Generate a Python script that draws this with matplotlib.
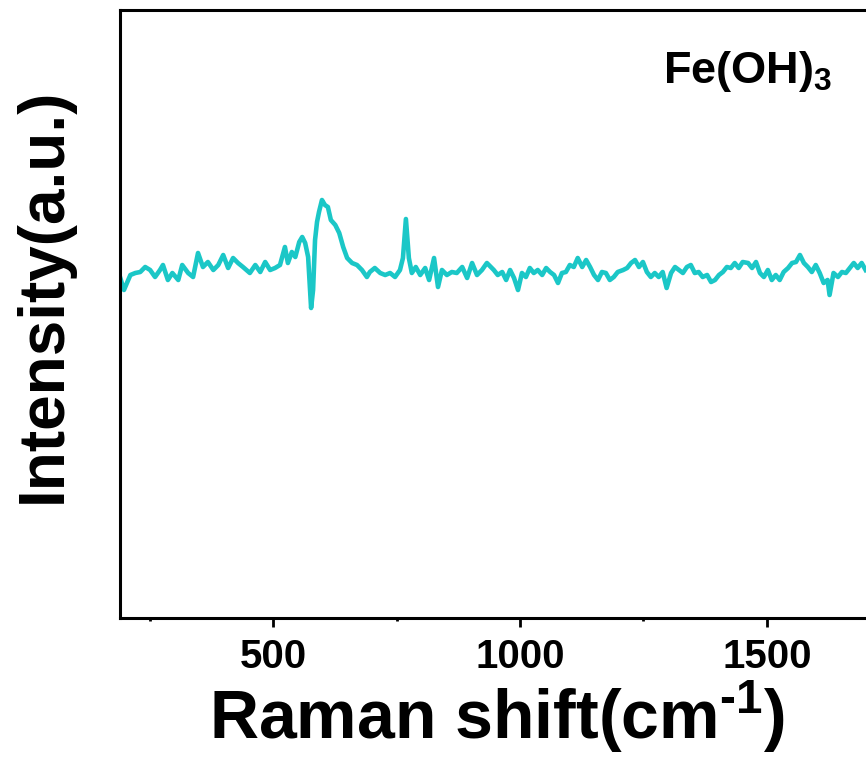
import matplotlib
matplotlib.use("Agg")
import matplotlib.pyplot as plt
from matplotlib.ticker import MultipleLocator, NullLocator

# Raman spectrum (cm-1, a.u.)
shift = [190, 198, 211, 221, 231, 241, 251, 261, 271, 277, 287, 296, 308, 316,
         328, 338, 348, 358, 368, 379, 389, 399, 409, 419, 429, 439,
         453, 464, 474, 484, 494, 504, 514, 524, 530, 538, 545, 553, 559, 565,
         571, 575, 577, 581, 585, 589, 593, 599, 605, 611, 617, 626, 634, 642,
         650, 660, 670, 680, 690,
         696, 706, 717, 727, 737, 747, 757, 763, 769, 775, 781, 789, 798, 808,
         816, 826, 834, 842, 852, 862, 872, 883, 893, 903, 913, 923, 933,
         947, 955, 964, 972, 980, 988, 996, 1004, 1012, 1020, 1028, 1036, 1045,
         1053, 1061, 1069, 1077, 1085, 1093, 1101, 1109, 1117, 1126, 1134, 1142,
         1150, 1158, 1166, 1174, 1182, 1190, 1198,
         1209, 1217, 1225, 1233, 1241, 1249, 1257, 1265, 1273, 1281, 1289, 1297,
         1306, 1314, 1322, 1330, 1338, 1346, 1354, 1362, 1370, 1379, 1387, 1395,
         1403, 1411, 1419, 1427, 1435, 1443, 1451,
         1462, 1470, 1478, 1486, 1494, 1502, 1510, 1518, 1526, 1534, 1543, 1551,
         1559, 1567, 1575, 1583, 1591, 1599, 1607, 1615, 1623, 1627, 1635, 1644,
         1652, 1660, 1668, 1676, 1684, 1692, 1700]
intensity = [341, 328, 343, 345, 346, 351, 348, 341, 348, 353, 338, 345, 338, 353,
             345, 341, 365, 351, 356, 348, 353, 363, 350, 360, 355, 351,
             345, 353, 346, 356, 348, 350, 353, 371, 355, 366, 361, 376, 381, 375,
             361, 328, 310, 328, 378, 396, 406, 418, 413, 411, 398, 393, 385, 371,
             360, 355, 353, 348, 341,
             346, 350, 345, 343, 345, 341, 348, 360, 399, 360, 345, 351, 343, 350,
             338, 360, 331, 348, 343, 346, 345, 351, 340, 355, 343, 348, 355,
             348, 343, 346, 338, 348, 340, 328, 345, 341, 350, 345, 348, 343,
             350, 346, 343, 335, 345, 346, 353, 351, 360, 351, 358, 351,
             343, 338, 346, 345, 338, 341, 346,
             348, 350, 355, 358, 351, 356, 346, 341, 345, 341, 346, 330,
             345, 351, 348, 345, 351, 353, 345, 346, 341, 343, 336, 338,
             343, 346, 351, 350, 355, 350, 356,
             355, 350, 356, 345, 341, 348, 338, 343, 338, 346, 350, 355,
             356, 363, 355, 351, 346, 353, 345, 335, 338, 323, 345, 341,
             346, 345, 350, 355, 350, 355, 348]
assert len(shift) == len(intensity)

x_ticks = [500, 1000, 1500]
label_text = r"Fe(OH)$_3$"

plt.rcParams["font.family"] = ["Liberation Sans", "DejaVu Sans"]
plt.rcParams["font.weight"] = "bold"
plt.rcParams["mathtext.fontset"] = "custom"
plt.rcParams["mathtext.rm"] = "Liberation Sans:bold"
plt.rcParams["mathtext.default"] = "rm"

fig = plt.figure(figsize=(8.66, 7.6), dpi=100)
# axes run past the right edge of the picture, as in the reference crop
ax = fig.add_axes([120 / 866, 142 / 760, 795 / 866, 608 / 760])

ax.plot(shift, intensity, color="#1bc7c7", lw=3.3)

ax.set_xlim(190, 1800)
ax.set_ylim(0, 608)
ax.set_xticks(x_ticks)
ax.xaxis.set_minor_locator(MultipleLocator(250))
ax.yaxis.set_major_locator(NullLocator())

for s in ax.spines.values():
    s.set_linewidth(2.2)
ax.tick_params(axis="x", which="major", direction="out", length=6.5, width=2,
               pad=8)
ax.tick_params(axis="x", which="minor", direction="out", length=2.5, width=2)
for lab in ax.get_xticklabels():
    lab.set_fontsize(29)
    lab.set_fontweight("bold")

ax.set_xlabel("Raman shift(cm$^{\u20101}$)", fontsize=49, fontweight="bold",
              labelpad=2)
ax.xaxis.label.set_x(0.474)
ax.set_ylabel("Intensity(a.u.)", fontsize=46, fontweight="bold")
ax.yaxis.set_label_coords(-46 / 795, 0.531)

fig.text(663 / 866, 1 - 83 / 760, label_text, fontsize=32.5, fontweight="bold",
         ha="left", va="baseline")

fig.savefig("out.png", dpi=100)
